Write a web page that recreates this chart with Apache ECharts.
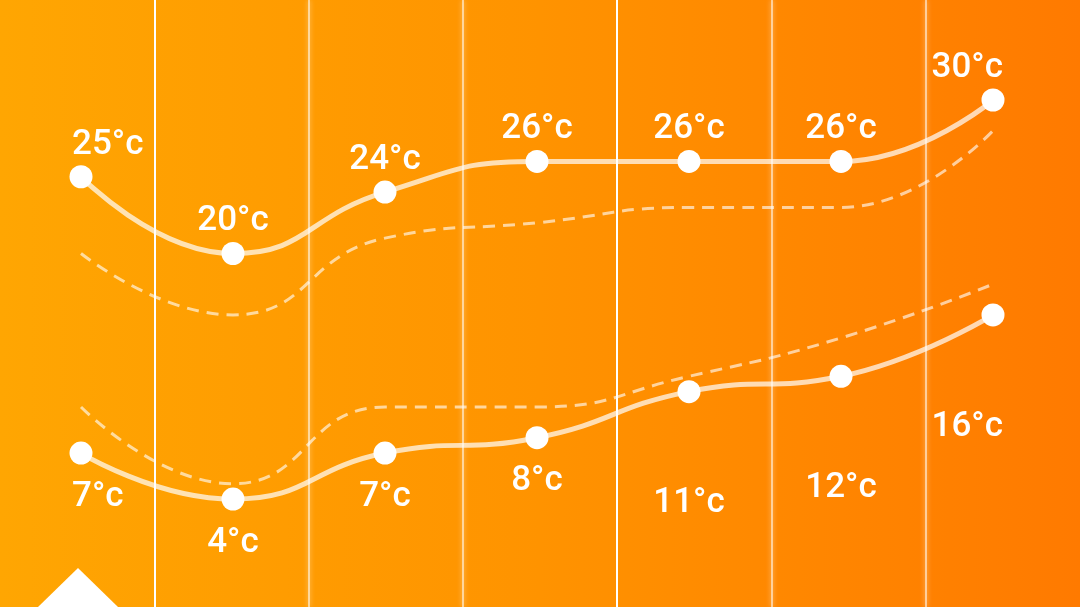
<!DOCTYPE html>
<html>
<head>
<meta charset="utf-8">
<style>
html,body{margin:0;padding:0;background:#ff9000;}
#chart{width:1080px;height:607px;}
</style>
<script src="https://cdn.jsdelivr.net/npm/echarts@6/dist/echarts.min.js"></script>
</head>
<body>
<div id="chart"></div>
<script>
const days = ['1', '2', '3', '4', '5', '6', '7'];
const highTemps = [25, 20, 24, 26, 26, 26, 30];
const lowTemps = [7, 4, 7, 8, 11, 12, 16];
const highFeels = [20, 16, 21, 22, 23, 23, 28];
const lowFeels = [10, 5, 10, 10, 12, 14.5, 18];

const last = days.length - 1;
const FONT = 'Roboto, "Noto Sans", sans-serif';

function edgeLabel(i, extra) {
  const l = Object.assign({}, extra || {});
  if (i === 0) { l.align = 'left'; l.offset = [-9, (l.offset || [0, 0])[1]]; }
  if (i === last) { l.align = 'right'; l.offset = [10, (l.offset || [0, 0])[1]]; }
  return l;
}

const highData = highTemps.map((v, i) => ({ value: v, label: edgeLabel(i) }));
const lowData = lowTemps.map((v, i) => ({
  value: v,
  label: edgeLabel(i, i >= 4 ? { offset: [0, 68] } : null)
}));

const chart = echarts.init(document.getElementById('chart'));
const lineColor = 'rgba(255,255,255,0.7)';
const dashColor = 'rgba(255,255,255,0.62)';
const clear = 'rgba(255,255,255,0)';

chart.setOption({
  backgroundColor: {
    type: 'linear', x: 0, y: 0, x2: 1, y2: 0,
    colorStops: [
      { offset: 0, color: '#ffa602' },
      { offset: 0.5, color: '#ff9300' },
      { offset: 1, color: '#ff7a00' }
    ]
  },
  animation: false,
  grid: [
    { left: 81, right: 87, top: 100, bottom: 46.5 },
    { left: 0, right: 0, top: 0, bottom: 0 }
  ],
  xAxis: [
    { type: 'category', data: days, boundaryGap: false, gridIndex: 0, show: false },
    {
      type: 'category', data: days, boundaryGap: true, gridIndex: 1,
      axisLine: { show: false }, axisTick: { show: false }, axisLabel: { show: false },
      splitLine: { show: true, showMinLine: false, showMaxLine: false,
        lineStyle: { width: 2, color: ['#ffffff', clear, clear] } }
    },
    {
      type: 'category', data: days, boundaryGap: true, gridIndex: 1,
      axisLine: { show: false }, axisTick: { show: false }, axisLabel: { show: false },
      splitLine: { show: true, showMinLine: false, showMaxLine: false,
        lineStyle: { width: 2, color: [clear, 'rgba(255,255,255,0.55)', 'rgba(255,255,255,0.55)'],
          shadowBlur: 5, shadowColor: 'rgba(255,255,255,0.9)' } }
    }
  ],
  yAxis: [
    { type: 'value', min: 0, max: 30, gridIndex: 0, show: false },
    { type: 'value', min: 0, max: 1, gridIndex: 1, show: false }
  ],
  graphic: [{
    type: 'polygon',
    shape: { points: [[38, 607], [78, 568], [118, 607]] },
    style: { fill: '#ffffff' }
  }],
  series: [
    {
      type: 'line', data: highFeels, smooth: true, showSymbol: false, silent: true,
      lineStyle: { width: 3, color: dashColor, type: [12, 8] }
    },
    {
      type: 'line', data: lowFeels, smooth: true, showSymbol: false, silent: true,
      lineStyle: { width: 3, color: dashColor, type: [12, 8] }
    },
    {
      type: 'line', data: highData, smooth: true, symbol: 'circle', symbolSize: 23,
      lineStyle: { width: 5, color: lineColor },
      itemStyle: { color: '#ffffff' },
      label: { show: true, position: 'top', distance: 3, formatter: '{c}°c',
        color: '#ffffff', fontSize: 35, fontWeight: 500, fontFamily: FONT }
    },
    {
      type: 'line', data: lowData, smooth: true, symbol: 'circle', symbolSize: 23,
      lineStyle: { width: 5, color: lineColor },
      itemStyle: { color: '#ffffff' },
      label: { show: true, position: 'bottom', distance: 15, formatter: '{c}°c',
        color: '#ffffff', fontSize: 35, fontWeight: 500, fontFamily: FONT }
    }
  ]
});
</script>
</body>
</html>
